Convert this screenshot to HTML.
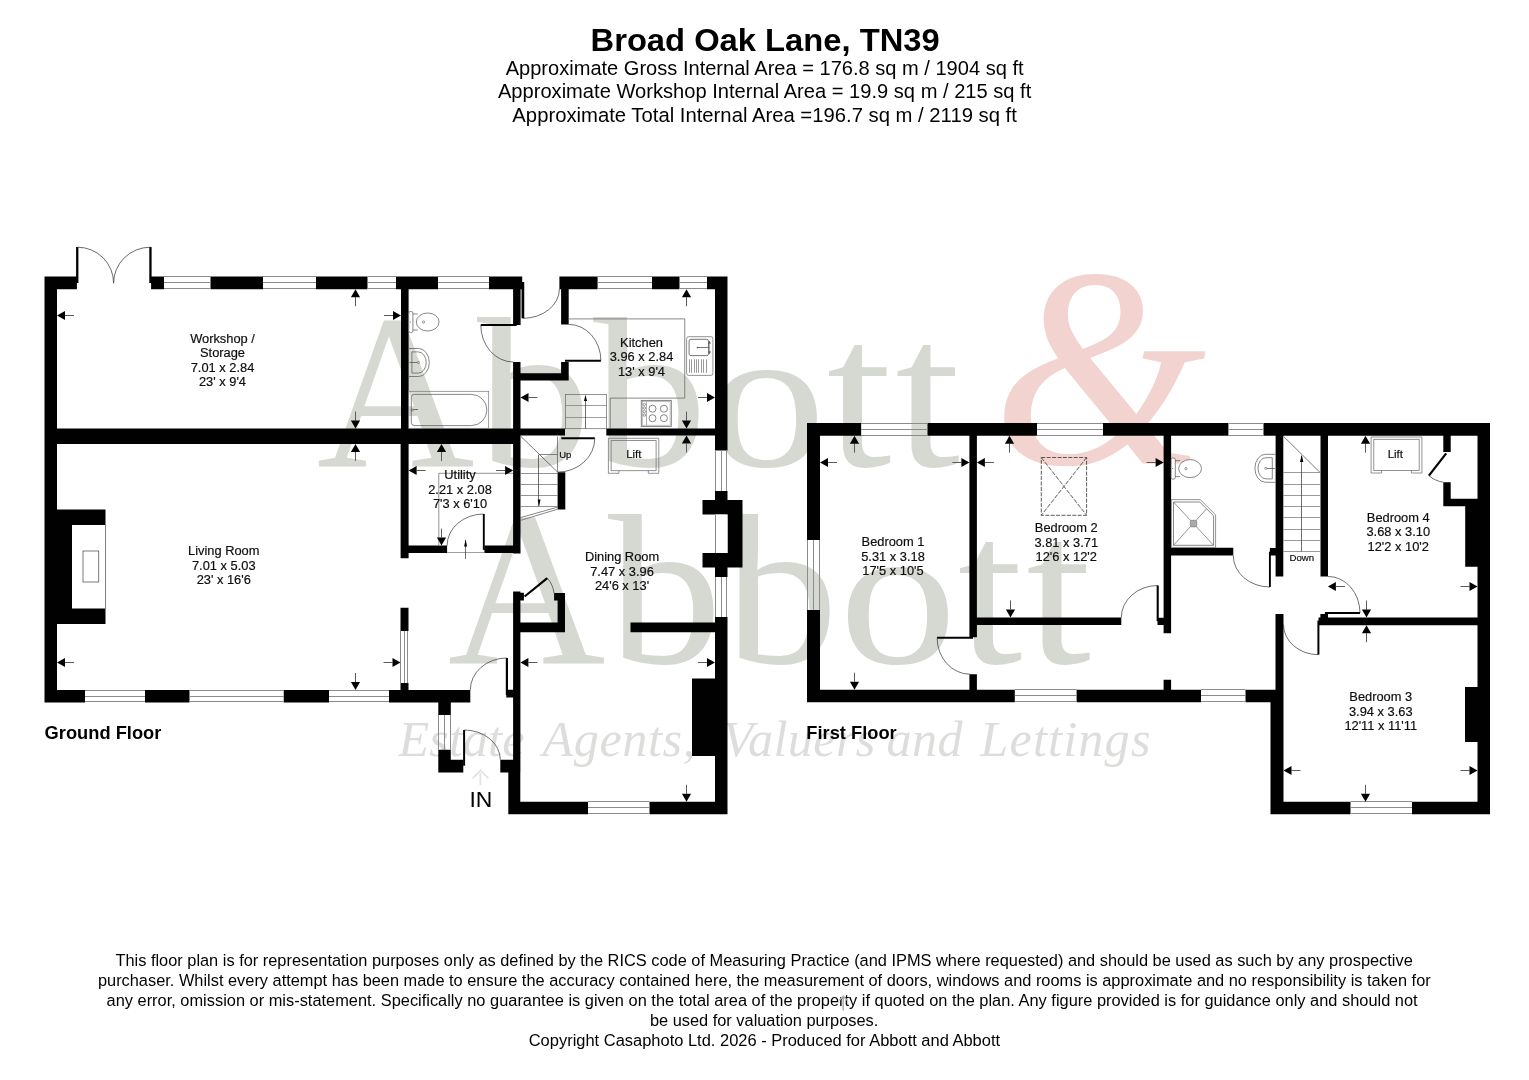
<!DOCTYPE html>
<html lang="en"><head><meta charset="utf-8"><title>Broad Oak Lane, TN39 - Floor Plan</title>
<style>
html,body{margin:0;padding:0;background:#fff;}
body{width:1529px;height:1080px;overflow:hidden;position:relative;font-family:"Liberation Sans",Arial,Helvetica,sans-serif;}
svg{position:absolute;left:0;top:0;display:block;will-change:opacity;opacity:0.9999;}
svg text{font-family:"Liberation Sans",Arial,Helvetica,sans-serif;}
svg text.lb{fill:#0d0d0d;stroke:#0d0d0d;stroke-width:0.18px;}
svg text.wm{font-family:"Liberation Serif","DejaVu Serif",serif;}
</style></head>
<body>
<svg width="1529" height="1080" viewBox="0 0 1529 1080">
<text class="wm" y="466.3" font-size="214" fill="#d6d9d2"><tspan x="316.8" font-size="220" textLength="157.8" lengthAdjust="spacingAndGlyphs">A</tspan><tspan x="477.0" font-size="214" textLength="114.0" lengthAdjust="spacingAndGlyphs">b</tspan><tspan x="593.2" font-size="214" textLength="114.0" lengthAdjust="spacingAndGlyphs">b</tspan><tspan x="708.0" font-size="204" textLength="117.8" lengthAdjust="spacingAndGlyphs">o</tspan><tspan x="826.7" font-size="214" textLength="64.8" lengthAdjust="spacingAndGlyphs">t</tspan><tspan x="895.3" font-size="214" textLength="64.8" lengthAdjust="spacingAndGlyphs">t</tspan></text>
<text class="wm" transform="translate(992.5,463.5) scale(0.965,1)" x="0" y="0" font-size="285" font-style="italic" fill="#f2d3cf">&amp;</text>
<text class="wm" y="663.3" font-size="214" fill="#d6d9d2"><tspan x="447.8" font-size="220" textLength="157.8" lengthAdjust="spacingAndGlyphs">A</tspan><tspan x="608.0" font-size="214" textLength="114.0" lengthAdjust="spacingAndGlyphs">b</tspan><tspan x="724.2" font-size="214" textLength="114.0" lengthAdjust="spacingAndGlyphs">b</tspan><tspan x="839.0" font-size="204" textLength="117.8" lengthAdjust="spacingAndGlyphs">o</tspan><tspan x="957.7" font-size="214" textLength="64.8" lengthAdjust="spacingAndGlyphs">t</tspan><tspan x="1026.3" font-size="214" textLength="64.8" lengthAdjust="spacingAndGlyphs">t</tspan></text>
<text class="wm" y="756" font-size="50.2" font-style="italic" fill="#dddddb"><tspan x="398.5" letter-spacing="0.1">Estate</tspan> <tspan x="542.5" letter-spacing="0.6">Agents,</tspan> <tspan x="722.4" letter-spacing="0.4">Valuers</tspan> <tspan x="886.6" letter-spacing="0.3">and</tspan> <tspan x="980.3" letter-spacing="1.2">Lettings</tspan></text>
<path d="M44.5,276.5H57V702.5H44.5ZM44.5,276.5H76.9V289.2H44.5ZM151.1,276.5H164V289.2H151.1ZM210.5,276.5H263V289.2H210.5ZM316,276.5H367.5V289.2H316ZM396,276.5H438V289.2H396ZM489,276.5H522.2V289.2H489ZM559.4,276.5H597.6V289.2H559.4ZM652,276.5H679.5V289.2H652ZM707,276.5H727.5V289.2H707ZM57,428.5H520.5V444H57ZM520.5,428.6H565V435.6H520.5ZM606.3,428.6H715V435.6H606.3ZM401,289.2H408.6V428.5H401ZM400.6,444H408.6V558.3H400.6ZM513.1,276.5H520.6V325H513.1ZM513.1,362H520.5V553.6H513.1ZM561.1,276.5H568.7V324.4H561.1ZM561.1,362H568.7V380.6H561.1ZM520.5,373.3H568.7V380.6H520.5ZM715,276.5H727.5V450.5H715ZM715,491H727.5V514.5H715ZM702.5,500H742.5V514.5H702.5ZM727.5,500H742.5V567.5H727.5ZM702.5,553H742.5V567.5H702.5ZM715,553H727.5V577H715ZM715,617H727.5V814.3H715ZM408.6,545.6H447.1V553.1H408.6ZM484.4,545.6H513.1V553.1H484.4ZM557.6,472.3H565.3V509.5H557.6ZM513.1,591.4H520.4V772.5H513.1ZM513.1,592.7H523.9V600.4H513.1ZM554.1,593H565V600.4H554.1ZM557.6,593H565V632.2H557.6ZM520.4,622.6H565V632.2H520.4ZM630.5,622.6H715V632.2H630.5ZM400.5,607.8H408.5V630.9H400.5ZM400.5,683H408.5V690H400.5ZM44.5,690H85V702.5H44.5ZM145,690H189.5V702.5H145ZM283.75,690H329V702.5H283.75ZM389,690H470.3V702.5H389ZM438.3,702.5H450.8V715H438.3ZM438.3,749.7H450.8V772.5H438.3ZM438.3,759.7H463.3V772.5H438.3ZM500.3,759.7H520.3V772.5H500.3ZM508.3,772.5H520.3V814.3H508.3ZM508.3,801.8H588V814.3H508.3ZM649.5,801.8H727.5V814.3H649.5ZM692,678.5H715V756H692ZM57,509.5H105.5V624H57ZM76.1,247H78.4V283.1H76.1ZM149.3,247H151.6V283.1H149.3ZM506.3,689.7H513.3V697.5H506.3ZM807,423H820V540H807ZM807,610H820V702.2H807ZM807,423H861V435.7H807ZM927.5,423H1037V435.7H927.5ZM1103,423H1228.4V435.7H1103ZM1263.5,423H1490V435.7H1263.5ZM1477.5,423H1490V814.3H1477.5ZM969.4,435.7H976.9V637.2H969.4ZM969.4,674.2H976.9V689.7H969.4ZM807,689.7H1014.8V702.2H807ZM1076.6,689.7H1201V702.2H1076.6ZM1245.5,689.7H1283.5V702.2H1245.5ZM976.9,617.4H1121.3V625.1H976.9ZM1163.6,435.7H1171.1V633.2H1163.6ZM1163.6,679.8H1171.1V690H1163.6ZM1275.6,435.7H1283.3V576.4H1275.6ZM1320.5,435.7H1328V576.4H1320.5ZM1171,547.8H1233.3V555.5H1171ZM1318.5,617.5H1477.5V625.2H1318.5ZM1320.4,614H1328V618H1320.4ZM1275.5,614H1283.5V690H1275.5ZM1270.5,690H1283.5V814.3H1270.5ZM1270.5,801.8H1350.5V814.3H1270.5ZM1412,801.8H1490V814.3H1412ZM1465,687H1477.5V742H1465ZM1443.3,435.7H1450.7V452H1443.3ZM1443.3,482.2H1450.7V506.2H1443.3ZM1443.3,498.8H1477.5V506.2H1443.3ZM1465.2,506.2H1477.5V566.7H1465.2ZM1157.5,617.7H1163.7V625.1H1157.5ZM1269.9,547.9H1275.7V555.6H1269.9Z" fill="#000"/>
<text transform="translate(765.1,51) scale(1.023,1)" font-size="32" text-anchor="middle" font-weight="bold" fill="#000">Broad Oak Lane, TN39</text>
<text transform="translate(764.6,74.6) scale(1.001,1)" font-size="20.05" text-anchor="middle" fill="#000">Approximate Gross Internal Area = 176.8 sq m / 1904 sq ft</text>
<text transform="translate(764.6,98.1) scale(1.003,1)" font-size="20.05" text-anchor="middle" fill="#000">Approximate Workshop Internal Area = 19.9 sq m / 215 sq ft</text>
<text transform="translate(764.6,121.6) scale(1.011,1)" font-size="20.05" text-anchor="middle" fill="#000">Approximate Total Internal Area =196.7 sq m / 2119 sq ft</text>
<text transform="translate(764.1,966) scale(1.0205,1)" font-size="16.05" text-anchor="middle" fill="#000">This floor plan is for representation purposes only as defined by the RICS code of Measuring Practice (and IPMS where requested) and should be used as such by any prospective</text>
<text transform="translate(764.3,985.93) scale(1.0205,1)" font-size="16.05" text-anchor="middle" fill="#000">purchaser. Whilst every attempt has been made to ensure the accuracy contained here, the measurement of doors, windows and rooms is approximate and no responsibility is taken for</text>
<text transform="translate(762.1,1005.86) scale(1.0215,1)" font-size="16.05" text-anchor="middle" fill="#000">any error, omission or mis-statement. Specifically no guarantee is given on the total area of the property if quoted on the plan. Any figure provided is for guidance only and should not</text>
<text transform="translate(764.1,1025.79) scale(1.021,1)" font-size="16.05" text-anchor="middle" fill="#000">be used for valuation purposes.</text>
<text transform="translate(764.4,1045.72) scale(1.0268,1)" font-size="16.05" text-anchor="middle" fill="#000">Copyright Casaphoto Ltd. 2026 - Produced for Abbott and Abbott</text>
<text transform="translate(44.6,739) scale(1.022,1)" font-size="17.9" text-anchor="start" font-weight="bold" fill="#000">Ground Floor</text>
<text transform="translate(806.3,739) scale(1.022,1)" font-size="17.9" text-anchor="start" font-weight="bold" fill="#000">First Floor</text>
<text x="469.4" y="807.4" font-size="22.9" text-anchor="start" fill="#000">IN</text>
<line x1="164" y1="276.5" x2="210.5" y2="276.5" stroke="#8c8c8c" stroke-width="1.0"/>
<line x1="164" y1="282.5" x2="210.5" y2="282.5" stroke="#8c8c8c" stroke-width="1.0"/>
<line x1="164" y1="288.5" x2="210.5" y2="288.5" stroke="#8c8c8c" stroke-width="1.0"/>
<line x1="263" y1="276.5" x2="316" y2="276.5" stroke="#8c8c8c" stroke-width="1.0"/>
<line x1="263" y1="282.5" x2="316" y2="282.5" stroke="#8c8c8c" stroke-width="1.0"/>
<line x1="263" y1="288.5" x2="316" y2="288.5" stroke="#8c8c8c" stroke-width="1.0"/>
<line x1="367.5" y1="276.5" x2="396" y2="276.5" stroke="#8c8c8c" stroke-width="1.0"/>
<line x1="367.5" y1="282.5" x2="396" y2="282.5" stroke="#8c8c8c" stroke-width="1.0"/>
<line x1="367.5" y1="288.5" x2="396" y2="288.5" stroke="#8c8c8c" stroke-width="1.0"/>
<line x1="438" y1="276.5" x2="489" y2="276.5" stroke="#8c8c8c" stroke-width="1.0"/>
<line x1="438" y1="282.5" x2="489" y2="282.5" stroke="#8c8c8c" stroke-width="1.0"/>
<line x1="438" y1="288.5" x2="489" y2="288.5" stroke="#8c8c8c" stroke-width="1.0"/>
<line x1="597.6" y1="276.5" x2="652" y2="276.5" stroke="#8c8c8c" stroke-width="1.0"/>
<line x1="597.6" y1="282.5" x2="652" y2="282.5" stroke="#8c8c8c" stroke-width="1.0"/>
<line x1="597.6" y1="288.5" x2="652" y2="288.5" stroke="#8c8c8c" stroke-width="1.0"/>
<line x1="679.5" y1="276.5" x2="707" y2="276.5" stroke="#8c8c8c" stroke-width="1.0"/>
<line x1="679.5" y1="282.5" x2="707" y2="282.5" stroke="#8c8c8c" stroke-width="1.0"/>
<line x1="679.5" y1="288.5" x2="707" y2="288.5" stroke="#8c8c8c" stroke-width="1.0"/>
<line x1="715.5" y1="450.5" x2="715.5" y2="491" stroke="#8c8c8c" stroke-width="1.0"/>
<line x1="721.5" y1="450.5" x2="721.5" y2="491" stroke="#8c8c8c" stroke-width="1.0"/>
<line x1="726.5" y1="450.5" x2="726.5" y2="491" stroke="#8c8c8c" stroke-width="1.0"/>
<rect x="715" y="514.5" width="12.5" height="38.5" fill="#fff" />
<line x1="715.5" y1="514.5" x2="715.5" y2="553" stroke="#666" stroke-width="0.8" />
<line x1="715.5" y1="577" x2="715.5" y2="617" stroke="#8c8c8c" stroke-width="1.0"/>
<line x1="721.5" y1="577" x2="721.5" y2="617" stroke="#8c8c8c" stroke-width="1.0"/>
<line x1="726.5" y1="577" x2="726.5" y2="617" stroke="#8c8c8c" stroke-width="1.0"/>
<line x1="400.5" y1="630.9" x2="400.5" y2="683" stroke="#8c8c8c" stroke-width="1.0"/>
<line x1="404.5" y1="630.9" x2="404.5" y2="683" stroke="#8c8c8c" stroke-width="1.0"/>
<line x1="407.5" y1="630.9" x2="407.5" y2="683" stroke="#8c8c8c" stroke-width="1.0"/>
<line x1="85" y1="690.5" x2="145" y2="690.5" stroke="#8c8c8c" stroke-width="1.0"/>
<line x1="85" y1="696.5" x2="145" y2="696.5" stroke="#8c8c8c" stroke-width="1.0"/>
<line x1="85" y1="701.5" x2="145" y2="701.5" stroke="#8c8c8c" stroke-width="1.0"/>
<line x1="189.5" y1="690.5" x2="283.75" y2="690.5" stroke="#8c8c8c" stroke-width="1.0"/>
<line x1="189.5" y1="696.5" x2="283.75" y2="696.5" stroke="#8c8c8c" stroke-width="1.0"/>
<line x1="189.5" y1="701.5" x2="283.75" y2="701.5" stroke="#8c8c8c" stroke-width="1.0"/>
<line x1="329" y1="690.5" x2="389" y2="690.5" stroke="#8c8c8c" stroke-width="1.0"/>
<line x1="329" y1="696.5" x2="389" y2="696.5" stroke="#8c8c8c" stroke-width="1.0"/>
<line x1="329" y1="701.5" x2="389" y2="701.5" stroke="#8c8c8c" stroke-width="1.0"/>
<line x1="438.5" y1="715" x2="438.5" y2="749.7" stroke="#8c8c8c" stroke-width="1.0"/>
<line x1="444.5" y1="715" x2="444.5" y2="749.7" stroke="#8c8c8c" stroke-width="1.0"/>
<line x1="450.5" y1="715" x2="450.5" y2="749.7" stroke="#8c8c8c" stroke-width="1.0"/>
<line x1="588" y1="801.5" x2="649.5" y2="801.5" stroke="#8c8c8c" stroke-width="1.0"/>
<line x1="588" y1="807.5" x2="649.5" y2="807.5" stroke="#8c8c8c" stroke-width="1.0"/>
<line x1="588" y1="813.5" x2="649.5" y2="813.5" stroke="#8c8c8c" stroke-width="1.0"/>
<rect x="72" y="525" width="33.5" height="83.5" fill="#fff" />
<line x1="105.5" y1="525" x2="105.5" y2="608.5" stroke="#666" stroke-width="0.7" />
<rect x="83" y="551" width="15.75" height="31" fill="#fff" stroke="#444" stroke-width="0.7"/>
<path d="M77.5,247.2 A36.1,36 0 0 1 113.6,283.2" stroke="#444" stroke-width="0.8" fill="none" />
<path d="M150.4,247.2 A36.8,36 0 0 0 113.6,283.2" stroke="#444" stroke-width="0.8" fill="none" />
<line x1="522.9" y1="282" x2="522.9" y2="318.3" stroke="#000" stroke-width="2.7"/>
<path d="M522.9,318.3 A36.5,29.3 0 0 0 559.4,289" stroke="#333" stroke-width="0.7" fill="none"/>
<line x1="516.7" y1="325.1" x2="480.8" y2="325.1" stroke="#000" stroke-width="2"/>
<path d="M480.8,325.1 A32.5,36.9 0 0 0 513.3,362" stroke="#333" stroke-width="0.7" fill="none"/>
<line x1="565" y1="360.7" x2="600.9" y2="360.7" stroke="#000" stroke-width="2"/>
<path d="M600.9,360.7 A32.2,36.3 0 0 0 568.7,324.4" stroke="#333" stroke-width="0.7" fill="none"/>
<line x1="561.3" y1="438.2" x2="594.8" y2="438.2" stroke="#000" stroke-width="2"/>
<path d="M594.8,438.2 A37.2,33.9 0 0 1 557.6,472.1" stroke="#333" stroke-width="0.7" fill="none"/>
<line x1="557.5" y1="436.5" x2="557.5" y2="472" stroke="#555" stroke-width="0.7" />
<line x1="483.8" y1="549.9" x2="483.8" y2="514" stroke="#000" stroke-width="1.9"/>
<path d="M483.8,514 A36.7,31.6 0 0 0 447.1,545.6" stroke="#333" stroke-width="0.7" fill="none"/>
<line x1="447.1" y1="552.5" x2="484.4" y2="552.5" stroke="#777" stroke-width="0.7" />
<line x1="506.9" y1="695" x2="506.9" y2="658" stroke="#000" stroke-width="2.2"/>
<path d="M506.9,658 A36.6,32 0 0 0 470.3,690" stroke="#333" stroke-width="0.7" fill="none"/>
<line x1="464.1" y1="765.7" x2="464.1" y2="730" stroke="#000" stroke-width="2"/>
<path d="M464.1,730 A36.2,29.7 0 0 1 500.3,759.7" stroke="#333" stroke-width="0.7" fill="none"/>
<line x1="524.6" y1="596.5" x2="547.3" y2="578.1" stroke="#000" stroke-width="2.2" />
<path d="M547.3,578.1 Q553,584.5 554.1,593.3" stroke="#333" stroke-width="0.7" fill="none" />
<path d="M568.7,318.9 H684.75 V398.1 H610.2 V428.6" stroke="#6a6a6a" stroke-width="0.8" fill="none" />
<rect x="565.5" y="394.5" width="41" height="34.2" fill="none" stroke="#666" stroke-width="0.7"/>
<line x1="565.5" y1="405.5" x2="606.5" y2="405.5" stroke="#777" stroke-width="0.7" />
<line x1="565.5" y1="417.5" x2="606.5" y2="417.5" stroke="#777" stroke-width="0.7" />
<line x1="585.5" y1="398" x2="585.5" y2="428.7" stroke="#333" stroke-width="0.7" />
<polygon points="585.5,394.8 584,401 587,401" fill="#000"/>
<rect x="686.6" y="336.7" width="26.3" height="38.7" rx="2" fill="none" stroke="#777" stroke-width="0.8"/>
<rect x="689.1" y="339.3" width="19.4" height="16.3" rx="1.8" fill="none" stroke="#555" stroke-width="0.8"/>
<line x1="689.5" y1="359.3" x2="689.5" y2="372.8" stroke="#999" stroke-width="1" />
<line x1="691.5" y1="359.3" x2="691.5" y2="372.8" stroke="#999" stroke-width="1" />
<line x1="694.5" y1="359.3" x2="694.5" y2="372.8" stroke="#999" stroke-width="1" />
<line x1="696.5" y1="359.3" x2="696.5" y2="372.8" stroke="#999" stroke-width="1" />
<line x1="698.5" y1="359.3" x2="698.5" y2="372.8" stroke="#999" stroke-width="1" />
<line x1="701.5" y1="359.3" x2="701.5" y2="372.8" stroke="#999" stroke-width="1" />
<line x1="703.5" y1="359.3" x2="703.5" y2="372.8" stroke="#999" stroke-width="1" />
<line x1="706.5" y1="359.3" x2="706.5" y2="372.8" stroke="#999" stroke-width="1" />
<line x1="697" y1="347.5" x2="709.5" y2="347.5" stroke="#555" stroke-width="0.8" />
<circle cx="697.5" cy="347.6" r="0.8" fill="#555"/>
<polygon points="709.5,340.5 708.2,343.8 710.8,343.8" fill="#555"/>
<polygon points="709.5,354.5 708.2,351.2 710.8,351.2" fill="#555"/>
<line x1="709.5" y1="343" x2="709.5" y2="352" stroke="#777" stroke-width="0.6" />
<rect x="641.3" y="400.4" width="30" height="26" fill="none" stroke="#777" stroke-width="0.9"/>
<rect x="642.5" y="401.6" width="27.6" height="23.6" fill="none" stroke="#999" stroke-width="0.6"/>
<line x1="646.5" y1="401.6" x2="646.5" y2="425.2" stroke="#777" stroke-width="0.6" />
<circle cx="652.5" cy="408.7" r="3.5" fill="none" stroke="#555" stroke-width="0.7"/>
<circle cx="663.9" cy="408.7" r="3.5" fill="none" stroke="#555" stroke-width="0.7"/>
<circle cx="652.5" cy="418.2" r="3.5" fill="none" stroke="#555" stroke-width="0.7"/>
<circle cx="663.9" cy="418.2" r="3.5" fill="none" stroke="#555" stroke-width="0.7"/>
<circle cx="644.4" cy="404.5" r="1.2" fill="none" stroke="#555" stroke-width="0.6"/>
<circle cx="644.4" cy="408" r="1.2" fill="none" stroke="#555" stroke-width="0.6"/>
<circle cx="644.4" cy="411.6" r="1.2" fill="none" stroke="#555" stroke-width="0.6"/>
<circle cx="644.4" cy="415.1" r="1.2" fill="none" stroke="#555" stroke-width="0.6"/>
<rect x="408.7" y="311.5" width="4.2" height="21" rx="1.6" fill="#fff" stroke="#555" stroke-width="0.7"/>
<path d="M412.9,314 H417.7 M412.9,330 H417.7" stroke="#555" stroke-width="0.7" fill="none" />
<ellipse cx="427.7" cy="322" rx="11.4" ry="9" fill="#fff" stroke="#555" stroke-width="0.7"/>
<circle cx="423.5" cy="322" r="1.1" fill="none" stroke="#555" stroke-width="0.6"/>
<circle cx="410.3" cy="322" r="0.5" fill="#555"/>
<path d="M408.7,348.5 H418.7 A10.6,14 0 0 1 418.7,376.5 H408.7" stroke="#555" stroke-width="0.7" fill="none" />
<path d="M411.9,351.9 H418.2 A8,10.6 0 0 1 418.2,373.1 H411.9 Z" stroke="#555" stroke-width="0.7" fill="none" />
<line x1="409.5" y1="362.5" x2="417.2" y2="362.5" stroke="#555" stroke-width="0.8" />
<circle cx="418.4" cy="362.5" r="1.1" fill="none" stroke="#555" stroke-width="0.6"/>
<rect x="408.7" y="391.3" width="80" height="37" fill="none" stroke="#777" stroke-width="0.7"/>
<path d="M414.3,394.4 H471.3 A15.6,15.6 0 0 1 471.3,425.6 H414.3 A3,3 0 0 1 411.3,422.6 V397.4 A3,3 0 0 1 414.3,394.4 Z" stroke="#555" stroke-width="0.7" fill="none" />
<circle cx="412" cy="410" r="1.1" fill="none" stroke="#555" stroke-width="0.6"/>
<line x1="413" y1="409.5" x2="418" y2="409.5" stroke="#555" stroke-width="0.8" />
<path d="M608.4,473.3 V438.3 H658.8 V473.3 H648.3 V470.7 M608.4,473.3 H618.9 V470.7" stroke="#777" stroke-width="0.8" fill="none" />
<rect x="611.1" y="440.6" width="44.99999999999998" height="30.1" fill="none" stroke="#777" stroke-width="0.8"/>
<text x="633.8" y="457.5" font-size="11.5" text-anchor="middle" class="lb">Lift</text>
<path d="M521,436.5 L557.6,472.1" stroke="#444" stroke-width="0.7" fill="none" />
<line x1="520.5" y1="473.5" x2="557.6" y2="473.5" stroke="#666" stroke-width="0.7" />
<line x1="520.5" y1="484.5" x2="557.6" y2="484.5" stroke="#666" stroke-width="0.7" />
<line x1="520.5" y1="495.5" x2="557.6" y2="495.5" stroke="#666" stroke-width="0.7" />
<line x1="520.5" y1="506.5" x2="557.6" y2="506.5" stroke="#666" stroke-width="0.7" />
<line x1="539.1" y1="454.5" x2="557.6" y2="454.5" stroke="#555" stroke-width="0.7" />
<line x1="538.5" y1="454.6" x2="538.5" y2="506" stroke="#333" stroke-width="0.7" />
<polygon points="539.1,506.6 537.7,499.5 540.5,499.5" fill="#000"/>
<path d="M520.5,517.6 L557.6,507.1 M520.5,520.4 L557.6,509.2" stroke="#555" stroke-width="0.7" fill="none" />
<text x="559.2" y="457.7" font-size="9.5" class="lb">Up</text>
<path d="M438.8,545.6 V473.3 H513.1" stroke="#666" stroke-width="0.7" fill="none" />
<line x1="74" y1="315.5" x2="65" y2="315.5" stroke="#5a5a5a" stroke-width="1"/>
<polygon points="57,315.5 65,310.9 65,320.1" fill="#000"/>
<line x1="384" y1="315.5" x2="393" y2="315.5" stroke="#5a5a5a" stroke-width="1"/>
<polygon points="401,315.5 393,320.1 393,310.9" fill="#000"/>
<line x1="355.5" y1="306.2" x2="355.5" y2="297.2" stroke="#5a5a5a" stroke-width="1"/>
<polygon points="355.5,289.2 360.1,297.2 350.9,297.2" fill="#000"/>
<line x1="355.5" y1="411.5" x2="355.5" y2="420.5" stroke="#5a5a5a" stroke-width="1"/>
<polygon points="355.5,428.5 350.9,420.5 360.1,420.5" fill="#000"/>
<line x1="355.5" y1="461" x2="355.5" y2="452" stroke="#5a5a5a" stroke-width="1"/>
<polygon points="355.5,444 360.1,452 350.9,452" fill="#000"/>
<line x1="74" y1="662.5" x2="65" y2="662.5" stroke="#5a5a5a" stroke-width="1"/>
<polygon points="57,662.5 65,657.9 65,667.1" fill="#000"/>
<line x1="383.5" y1="662.5" x2="392.5" y2="662.5" stroke="#5a5a5a" stroke-width="1"/>
<polygon points="400.5,662.5 392.5,667.1 392.5,657.9" fill="#000"/>
<line x1="355.5" y1="673" x2="355.5" y2="682" stroke="#5a5a5a" stroke-width="1"/>
<polygon points="355.5,690 350.9,682 360.1,682" fill="#000"/>
<line x1="441.5" y1="461" x2="441.5" y2="452" stroke="#5a5a5a" stroke-width="1"/>
<polygon points="441.5,444 446.1,452 436.9,452" fill="#000"/>
<line x1="425.6" y1="470.5" x2="416.6" y2="470.5" stroke="#5a5a5a" stroke-width="1"/>
<polygon points="408.6,470.5 416.6,465.9 416.6,475.1" fill="#000"/>
<line x1="496.1" y1="470.5" x2="505.1" y2="470.5" stroke="#5a5a5a" stroke-width="1"/>
<polygon points="513.1,470.5 505.1,475.1 505.1,465.9" fill="#000"/>
<line x1="441.5" y1="528.6" x2="441.5" y2="537.6" stroke="#5a5a5a" stroke-width="1"/>
<polygon points="441.5,545.6 436.9,537.6 446.1,537.6" fill="#000"/>
<line x1="537.5" y1="397.5" x2="528.5" y2="397.5" stroke="#5a5a5a" stroke-width="1"/>
<polygon points="520.5,397.5 528.5,392.9 528.5,402.1" fill="#000"/>
<line x1="698" y1="397.5" x2="707" y2="397.5" stroke="#5a5a5a" stroke-width="1"/>
<polygon points="715,397.5 707,402.1 707,392.9" fill="#000"/>
<line x1="686.5" y1="306.2" x2="686.5" y2="297.2" stroke="#5a5a5a" stroke-width="1"/>
<polygon points="686.5,289.2 691.1,297.2 681.9,297.2" fill="#000"/>
<line x1="686.5" y1="411.6" x2="686.5" y2="420.6" stroke="#5a5a5a" stroke-width="1"/>
<polygon points="686.5,428.6 681.9,420.6 691.1,420.6" fill="#000"/>
<line x1="686.5" y1="452.6" x2="686.5" y2="443.6" stroke="#5a5a5a" stroke-width="1"/>
<polygon points="686.5,435.6 691.1,443.6 681.9,443.6" fill="#000"/>
<line x1="537.4" y1="662.5" x2="528.4" y2="662.5" stroke="#5a5a5a" stroke-width="1"/>
<polygon points="520.4,662.5 528.4,657.9 528.4,667.1" fill="#000"/>
<line x1="698" y1="662.5" x2="707" y2="662.5" stroke="#5a5a5a" stroke-width="1"/>
<polygon points="715,662.5 707,667.1 707,657.9" fill="#000"/>
<line x1="686.5" y1="784.8" x2="686.5" y2="793.8" stroke="#5a5a5a" stroke-width="1"/>
<polygon points="686.5,801.8 681.9,793.8 691.1,793.8" fill="#000"/>
<line x1="465.5" y1="540" x2="465.5" y2="559" stroke="#333" stroke-width="0.7" />
<polygon points="465.6,539.6 464.1,546.6 467.1,546.6" fill="#000"/>
<path d="M480.4,785 V773 M472.6,778.3 L480.5,770.4 L488.4,778.3" stroke="#e3e3e3" stroke-width="1.8" fill="none" />
<path d="M843.2,1010.5 V998 M839.3,1000.3 L843.2,996.2 L847.2,1000.3" stroke="#b5b5b5" stroke-width="1.6" fill="none" />
<text x="222.5" y="342.75" font-size="12.85" text-anchor="middle" class="lb">Workshop /</text>
<text x="222.5" y="357.3" font-size="12.85" text-anchor="middle" class="lb">Storage</text>
<text x="222.5" y="371.85" font-size="12.85" text-anchor="middle" class="lb">7.01 x 2.84</text>
<text x="222.5" y="386.4" font-size="12.85" text-anchor="middle" class="lb">23' x 9'4</text>
<text x="223.75" y="555.05" font-size="12.85" text-anchor="middle" class="lb">Living Room</text>
<text x="223.75" y="569.6" font-size="12.85" text-anchor="middle" class="lb">7.01 x 5.03</text>
<text x="223.75" y="584.15" font-size="12.85" text-anchor="middle" class="lb">23' x 16'6</text>
<text x="641.5" y="346.75" font-size="12.85" text-anchor="middle" class="lb">Kitchen</text>
<text x="641.5" y="361.3" font-size="12.85" text-anchor="middle" class="lb">3.96 x 2.84</text>
<text x="641.5" y="375.85" font-size="12.85" text-anchor="middle" class="lb">13' x 9'4</text>
<text x="460" y="479.05" font-size="12.85" text-anchor="middle" class="lb">Utility</text>
<text x="460" y="493.6" font-size="12.85" text-anchor="middle" class="lb">2.21 x 2.08</text>
<text x="460" y="508.15" font-size="12.85" text-anchor="middle" class="lb">7'3 x 6'10</text>
<text x="622" y="561.05" font-size="12.85" text-anchor="middle" class="lb">Dining Room</text>
<text x="622" y="575.6" font-size="12.85" text-anchor="middle" class="lb">7.47 x 3.96</text>
<text x="622" y="590.15" font-size="12.85" text-anchor="middle" class="lb">24'6 x 13'</text>
<line x1="807.5" y1="540" x2="807.5" y2="610" stroke="#8c8c8c" stroke-width="1.0"/>
<line x1="813.5" y1="540" x2="813.5" y2="610" stroke="#8c8c8c" stroke-width="1.0"/>
<line x1="819.5" y1="540" x2="819.5" y2="610" stroke="#8c8c8c" stroke-width="1.0"/>
<line x1="861" y1="423.5" x2="927.5" y2="423.5" stroke="#8c8c8c" stroke-width="1.0"/>
<line x1="861" y1="429.5" x2="927.5" y2="429.5" stroke="#8c8c8c" stroke-width="1.0"/>
<line x1="861" y1="435.5" x2="927.5" y2="435.5" stroke="#8c8c8c" stroke-width="1.0"/>
<line x1="1037" y1="423.5" x2="1103" y2="423.5" stroke="#8c8c8c" stroke-width="1.0"/>
<line x1="1037" y1="429.5" x2="1103" y2="429.5" stroke="#8c8c8c" stroke-width="1.0"/>
<line x1="1037" y1="435.5" x2="1103" y2="435.5" stroke="#8c8c8c" stroke-width="1.0"/>
<line x1="1228.4" y1="423.5" x2="1263.5" y2="423.5" stroke="#8c8c8c" stroke-width="1.0"/>
<line x1="1228.4" y1="429.5" x2="1263.5" y2="429.5" stroke="#8c8c8c" stroke-width="1.0"/>
<line x1="1228.4" y1="435.5" x2="1263.5" y2="435.5" stroke="#8c8c8c" stroke-width="1.0"/>
<line x1="1014.8" y1="689.5" x2="1076.6" y2="689.5" stroke="#8c8c8c" stroke-width="1.0"/>
<line x1="1014.8" y1="695.5" x2="1076.6" y2="695.5" stroke="#8c8c8c" stroke-width="1.0"/>
<line x1="1014.8" y1="701.5" x2="1076.6" y2="701.5" stroke="#8c8c8c" stroke-width="1.0"/>
<line x1="1201" y1="689.5" x2="1245.5" y2="689.5" stroke="#8c8c8c" stroke-width="1.0"/>
<line x1="1201" y1="695.5" x2="1245.5" y2="695.5" stroke="#8c8c8c" stroke-width="1.0"/>
<line x1="1201" y1="701.5" x2="1245.5" y2="701.5" stroke="#8c8c8c" stroke-width="1.0"/>
<line x1="1350.5" y1="801.5" x2="1412" y2="801.5" stroke="#8c8c8c" stroke-width="1.0"/>
<line x1="1350.5" y1="807.5" x2="1412" y2="807.5" stroke="#8c8c8c" stroke-width="1.0"/>
<line x1="1350.5" y1="813.5" x2="1412" y2="813.5" stroke="#8c8c8c" stroke-width="1.0"/>
<line x1="973" y1="637.8" x2="937.1" y2="637.8" stroke="#000" stroke-width="2"/>
<path d="M937.1,637.8 A32.9,36.4 0 0 0 970,674.2" stroke="#333" stroke-width="0.7" fill="none"/>
<line x1="1157.7" y1="621.2" x2="1157.7" y2="585.5" stroke="#000" stroke-width="2.1"/>
<path d="M1157.7,585.5 A36.4,32.2 0 0 0 1121.3,617.7" stroke="#333" stroke-width="0.7" fill="none"/>
<line x1="1269.9" y1="551.7" x2="1269.9" y2="587" stroke="#000" stroke-width="1.9"/>
<path d="M1269.9,587 A36.6,31.3 0 0 1 1233.3,555.7" stroke="#333" stroke-width="0.7" fill="none"/>
<line x1="1324.9" y1="612.9" x2="1360" y2="612.9" stroke="#000" stroke-width="2"/>
<path d="M1360,612.9 A32.1,36.5 0 0 0 1327.9,576.4" stroke="#333" stroke-width="0.7" fill="none"/>
<line x1="1318.4" y1="620.6" x2="1318.4" y2="654.7" stroke="#000" stroke-width="2"/>
<path d="M1318.4,654.7 A34.9,30.1 0 0 1 1283.5,624.6" stroke="#333" stroke-width="0.7" fill="none"/>
<line x1="1446.2" y1="453.3" x2="1428.9" y2="475.6" stroke="#000" stroke-width="2.2" />
<path d="M1428.9,475.6 Q1435,481 1443.3,482.2" stroke="#333" stroke-width="0.7" fill="none" />
<rect x="1041.3" y="457.5" width="45.3" height="57.8" fill="none" stroke="#4a4a4a" stroke-width="0.9" stroke-dasharray="4 1.4"/>
<path d="M1041.3,457.5 L1086.6,515.3 M1086.6,457.5 L1041.3,515.3" stroke="#4a4a4a" stroke-width="0.9" fill="none" stroke-dasharray="4.5 1.4"/>
<path d="M1283.8,436.6 L1320.3,472.7" stroke="#444" stroke-width="0.7" fill="none" />
<line x1="1283.3" y1="472.5" x2="1320.5" y2="472.5" stroke="#808080" stroke-width="0.8" />
<line x1="1283.3" y1="484.5" x2="1320.5" y2="484.5" stroke="#808080" stroke-width="0.8" />
<line x1="1283.3" y1="495.5" x2="1320.5" y2="495.5" stroke="#808080" stroke-width="0.8" />
<line x1="1283.3" y1="506.5" x2="1320.5" y2="506.5" stroke="#808080" stroke-width="0.8" />
<line x1="1283.3" y1="517.5" x2="1320.5" y2="517.5" stroke="#808080" stroke-width="0.8" />
<line x1="1283.3" y1="529.5" x2="1320.5" y2="529.5" stroke="#808080" stroke-width="0.8" />
<line x1="1283.3" y1="540.5" x2="1320.5" y2="540.5" stroke="#808080" stroke-width="0.8" />
<line x1="1283.3" y1="551.5" x2="1320.5" y2="551.5" stroke="#808080" stroke-width="0.8" />
<line x1="1301.5" y1="551.6" x2="1301.5" y2="456" stroke="#333" stroke-width="0.7" />
<polygon points="1301.7,454.7 1300,461.9 1303.4,461.9" fill="#000"/>
<text x="1301.8" y="560.9" font-size="9.6" text-anchor="middle" class="lb">Down</text>
<path d="M1371.1,473 V437 H1421.9 V473 H1411.4 V470.4 M1371.1,473 H1381.6 V470.4" stroke="#777" stroke-width="0.8" fill="none" />
<rect x="1373.8" y="439.3" width="45.40000000000018" height="31.1" fill="none" stroke="#777" stroke-width="0.8"/>
<text x="1395.3" y="458.2" font-size="11.5" text-anchor="middle" class="lb">Lift</text>
<rect x="1171.1" y="458.1" width="4.2" height="21" rx="1.6" fill="#fff" stroke="#555" stroke-width="0.7"/>
<path d="M1175.3,460.6 H1180.1 M1175.3,476.6 H1180.1" stroke="#555" stroke-width="0.7" fill="none" />
<ellipse cx="1190.1" cy="468.6" rx="11.4" ry="9" fill="#fff" stroke="#555" stroke-width="0.7"/>
<circle cx="1185.8999999999999" cy="468.6" r="1.1" fill="none" stroke="#555" stroke-width="0.6"/>
<circle cx="1172.6999999999998" cy="468.6" r="0.5" fill="#555"/>
<path d="M1275.5,454.3 H1265.5 A10.6,14 0 0 0 1265.5,482.3 H1275.5" stroke="#555" stroke-width="0.7" fill="none" />
<path d="M1272.3,457.7 H1266.0 A8,10.6 0 0 0 1266.0,478.90000000000003 H1272.3 Z" stroke="#555" stroke-width="0.7" fill="none" />
<line x1="1274.7" y1="468.5" x2="1267" y2="468.5" stroke="#555" stroke-width="0.8" />
<circle cx="1265.8" cy="468.3" r="1.1" fill="none" stroke="#555" stroke-width="0.6"/>
<path d="M1171.4,499.6 H1200.3 L1215.6,514.9 V547.4 H1171.4 Z" stroke="#777" stroke-width="0.8" fill="none" />
<path d="M1173.5,502 H1199.7 L1213.6,515.8 V545.3 H1173.5 Z" stroke="#555" stroke-width="0.7" fill="none" />
<path d="M1173.5,502 L1213.6,545.3 M1173.5,545.3 L1206.5,508.9" stroke="#666" stroke-width="0.7" fill="none" />
<rect x="1190.2" y="520.3" width="6.6" height="6.6" rx="1.5" fill="#aaa" stroke="#777" stroke-width="0.6"/>
<line x1="854.5" y1="452.7" x2="854.5" y2="443.7" stroke="#5a5a5a" stroke-width="1"/>
<polygon points="854.5,435.7 859.1,443.7 849.9,443.7" fill="#000"/>
<line x1="837" y1="462.5" x2="828" y2="462.5" stroke="#5a5a5a" stroke-width="1"/>
<polygon points="820,462.5 828,457.9 828,467.1" fill="#000"/>
<line x1="952.4" y1="462.5" x2="961.4" y2="462.5" stroke="#5a5a5a" stroke-width="1"/>
<polygon points="969.4,462.5 961.4,467.1 961.4,457.9" fill="#000"/>
<line x1="854.5" y1="672.7" x2="854.5" y2="681.7" stroke="#5a5a5a" stroke-width="1"/>
<polygon points="854.5,689.7 849.9,681.7 859.1,681.7" fill="#000"/>
<line x1="993.9" y1="462.5" x2="984.9" y2="462.5" stroke="#5a5a5a" stroke-width="1"/>
<polygon points="976.9,462.5 984.9,457.9 984.9,467.1" fill="#000"/>
<line x1="1009.5" y1="452.7" x2="1009.5" y2="443.7" stroke="#5a5a5a" stroke-width="1"/>
<polygon points="1009.5,435.7 1014.1,443.7 1004.9,443.7" fill="#000"/>
<line x1="1146.6" y1="462.5" x2="1155.6" y2="462.5" stroke="#5a5a5a" stroke-width="1"/>
<polygon points="1163.6,462.5 1155.6,467.1 1155.6,457.9" fill="#000"/>
<line x1="1010.5" y1="600.4" x2="1010.5" y2="609.4" stroke="#5a5a5a" stroke-width="1"/>
<polygon points="1010.5,617.4 1005.9,609.4 1015.1,609.4" fill="#000"/>
<line x1="1344.9" y1="586.5" x2="1335.9" y2="586.5" stroke="#5a5a5a" stroke-width="1"/>
<polygon points="1327.9,586.5 1335.9,581.9 1335.9,591.1" fill="#000"/>
<line x1="1460.5" y1="586.5" x2="1469.5" y2="586.5" stroke="#5a5a5a" stroke-width="1"/>
<polygon points="1477.5,586.5 1469.5,591.1 1469.5,581.9" fill="#000"/>
<line x1="1365.5" y1="452.7" x2="1365.5" y2="443.7" stroke="#5a5a5a" stroke-width="1"/>
<polygon points="1365.5,435.7 1370.1,443.7 1360.9,443.7" fill="#000"/>
<line x1="1366.5" y1="600.5" x2="1366.5" y2="609.5" stroke="#5a5a5a" stroke-width="1"/>
<polygon points="1366.5,617.5 1361.9,609.5 1371.1,609.5" fill="#000"/>
<line x1="1366.5" y1="642.2" x2="1366.5" y2="633.2" stroke="#5a5a5a" stroke-width="1"/>
<polygon points="1366.5,625.2 1371.1,633.2 1361.9,633.2" fill="#000"/>
<line x1="1300.5" y1="770.5" x2="1291.5" y2="770.5" stroke="#5a5a5a" stroke-width="1"/>
<polygon points="1283.5,770.5 1291.5,765.9 1291.5,775.1" fill="#000"/>
<line x1="1460.5" y1="770.5" x2="1469.5" y2="770.5" stroke="#5a5a5a" stroke-width="1"/>
<polygon points="1477.5,770.5 1469.5,775.1 1469.5,765.9" fill="#000"/>
<line x1="1365.5" y1="784.8" x2="1365.5" y2="793.8" stroke="#5a5a5a" stroke-width="1"/>
<polygon points="1365.5,801.8 1360.9,793.8 1370.1,793.8" fill="#000"/>
<text x="893" y="546.35" font-size="12.85" text-anchor="middle" class="lb">Bedroom 1</text>
<text x="893" y="560.9" font-size="12.85" text-anchor="middle" class="lb">5.31 x 3.18</text>
<text x="893" y="575.45" font-size="12.85" text-anchor="middle" class="lb">17'5 x 10'5</text>
<text x="1066.25" y="532.05" font-size="12.85" text-anchor="middle" class="lb">Bedroom 2</text>
<text x="1066.25" y="546.6" font-size="12.85" text-anchor="middle" class="lb">3.81 x 3.71</text>
<text x="1066.25" y="561.15" font-size="12.85" text-anchor="middle" class="lb">12'6 x 12'2</text>
<text x="1398.25" y="521.85" font-size="12.85" text-anchor="middle" class="lb">Bedroom 4</text>
<text x="1398.25" y="536.4" font-size="12.85" text-anchor="middle" class="lb">3.68 x 3.10</text>
<text x="1398.25" y="550.95" font-size="12.85" text-anchor="middle" class="lb">12'2 x 10'2</text>
<text x="1380.75" y="701.05" font-size="12.85" text-anchor="middle" class="lb">Bedroom 3</text>
<text x="1380.75" y="715.6" font-size="12.85" text-anchor="middle" class="lb">3.94 x 3.63</text>
<text x="1380.75" y="730.15" font-size="12.85" text-anchor="middle" class="lb">12'11 x 11'11</text>
</svg>
</body></html>
